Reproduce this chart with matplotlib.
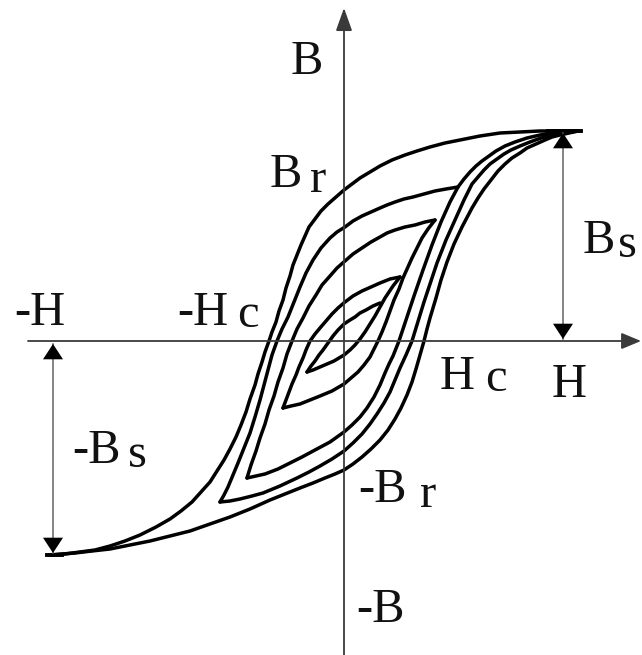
import matplotlib
matplotlib.use("Agg")
import matplotlib.pyplot as plt

# ---- data (H, B in drawing units; origin at the axes crossing) ----
outer_desc_H = [234, 216, 196, 176, 156, 136, 116, 101, 86, 73, 61, 48, 36, 26, 16, 8, 0, -8, -16, -23,
                -29, -35, -39, -43, -47, -51, -54, -58, -61, -65, -68, -72, -75, -79, -82, -86, -89,
                -94, -98, -103, -108, -114, -120, -127, -134, -143, -152, -163, -174, -188, -204,
                -219, -234, -249, -264, -279, -294]
outer_desc_B = [210, 210, 210, 209, 208, 205, 201, 198, 194, 190, 186, 181, 175, 169, 163, 157, 151, 144,
                137, 130, 122, 114, 105, 96, 86, 76, 65, 53, 41, 30, 19, 9, 0, -11, -21, -33, -44,
                -58, -71, -84, -96, -108, -119, -130, -141, -151, -161, -170, -178, -186, -194,
                -200, -205, -209, -211, -213, -214]

outer_asc_H = [-294, -282, -269, -252, -234, -214, -194, -174, -154, -134, -114, -94, -74, -59, -44, -31,
               -19, -9, 0, 9, 18, 27, 36, 44, 51, 57, 63, 68, 72, 76, 80, 83, 86, 89, 92, 97, 103, 110,
               118, 128, 134, 140, 147, 154, 161, 168, 176, 183, 192, 201, 208, 216, 225, 234]
outer_asc_B = [-214, -213, -212, -210, -208, -204, -200, -195, -190, -183, -176, -168, -159, -153, -147,
               -142, -137, -133, -129, -123, -116, -108, -99, -89, -78, -67, -54, -41, -28, -14, 0,
               12, 23, 33, 43, 61, 79, 97, 114, 133, 143, 152, 161, 170, 177, 183, 188, 193, 197,
               201, 204, 206, 208, 210]

loop2_desc_H = [114, 102, 91, 80, 69, 60, 51, 43, 36, 27, 18, 9, 1, -7, -14, -23, -31, -38, -44, -50,
                -56, -62, -67, -72, -76, -80, -84, -89, -94, -100, -106, -111, -116, -120, -124]
loop2_desc_B = [154, 152, 150, 147, 144, 142, 139, 136, 133, 129, 125, 120, 114, 109, 103, 93, 81, 68,
                54, 39, 24, 12, 0, -14, -29, -44, -59, -76, -92, -107, -122, -134, -146, -154, -161]
loop2_asc_H = [-124, -114, -104, -92, -81, -64, -47, -35, -24, -12, 0, 9, 18, 26, 33, 40, 46, 51, 56,
               62, 68, 72, 76, 80, 84, 93, 102, 111, 120, 124, 128, 134, 140, 146, 153, 160, 167, 176,
               186, 197, 208, 221, 234]
loop2_asc_B = [-161, -160, -158, -155, -152, -145, -137, -131, -125, -118, -110, -102, -93, -83, -73,
               -62, -51, -39, -27, -14, 0, 13, 26, 39, 51, 78, 101, 121, 141, 149, 157, 164, 171,
               177, 182, 187, 191, 195, 199, 203, 206, 208, 210]

loop3_desc_H = [91, 81, 71, 61, 51, 43, 36, 27, 18, 9, 1, -7, -14, -22, -28, -35, -41, -47, -52, -57,
                -61, -66, -70, -75, -79, -84, -88, -93, -97]
loop3_desc_B = [121, 119, 116, 114, 111, 108, 104, 99, 93, 87, 80, 73, 65, 56, 46, 35, 23, 12, 0, -13,
                -27, -41, -55, -69, -83, -97, -110, -124, -137]
loop3_asc_H = [-97, -88, -79, -66, -54, -42, -29, -14, 0, 8, 16, 23, 30, 36, 41, 45, 49, 55, 62, 70, 79,
               88, 97, 106, 114, 120, 126, 132, 138, 145, 152, 161, 171, 183, 196, 214, 234]
loop3_asc_B = [-137, -135, -133, -128, -122, -116, -109, -101, -91, -84, -76, -67, -56, -44, -32, -23,
               -15, 0, 21, 45, 71, 96, 119, 139, 154, 162, 169, 175, 180, 185, 190, 195, 199, 203,
               206, 209, 210]

loop4_desc_H = [56, 46, 36, 27, 18, 9, 1, -6, -12, -18, -24, -29, -34, -38, -41, -45, -48, -52, -55,
                -58, -61]
loop4_desc_B = [64, 62, 58, 54, 50, 45, 39, 33, 27, 20, 13, 7, 0, -9, -17, -26, -34, -43, -51, -59, -67]
loop4_asc_H = [-61, -53, -44, -34, -24, -12, 0, 7, 14, 20, 26, 30, 34, 38, 42, 46, 50, 55, 59, 68, 78,
               84, 91]
loop4_asc_B = [-67, -65, -63, -59, -55, -50, -43, -37, -31, -24, -16, -8, 0, 9, 19, 30, 41, 52, 63, 83,
               103, 112, 121]

loop5_desc_H = [36, 29, 22, 16, 11, 6, 0, -6, -11, -16, -21, -25, -29, -33, -37]
loop5_desc_B = [38, 35, 31, 28, 24, 21, 17, 11, 5, -2, -9, -14, -20, -25, -31]
loop5_asc_H = [-37, -31, -24, -17, -10, -5, 0, 6, 11, 16, 21, 26, 31, 36, 41, 45, 49, 56]
loop5_asc_B = [-31, -29, -26, -23, -20, -17, -14, -9, -4, 2, 9, 17, 25, 34, 43, 49, 55, 64]

Hs_pos, Bs_pos = 219, 208      # Bs arrow position / top
Hs_neg, Bs_neg = -291, -212    # -Bs arrow position / bottom

# labels: (text, H, B)
labels = [
    ("B", -53, 267),
    ("B", -74, 154), ("r", -34, 149),
    ("B", 239, 88), ("s", 274, 84),
    ("-H", -330, 16),
    ("-H", -167, 16), ("c", -107, 14),
    ("H", 96, -48), ("c", 141, -50),
    ("H", 208, -56),
    ("-B", -272, -122), ("s", -216, -126),
    ("-B", 14, -161), ("r", 76, -166),
    ("-B", 12, -281),
]

# ---- figure ----
fig = plt.figure(figsize=(6.42, 6.55), dpi=100)
ax = fig.add_axes([0, 0, 1, 1])
ax.set_xlim(-344, 298)
ax.set_ylim(-314, 341)
ax.axis("off")

axis_col = "#3a3a3a"
ax.annotate("", xy=(297, 0), xytext=(-316, 0),
            arrowprops=dict(arrowstyle="-|>,head_length=1.2,head_width=0.5", mutation_scale=10,
                            color=axis_col, lw=1.3, shrinkA=0, shrinkB=0))
ax.annotate("", xy=(0, 333), xytext=(0, -314),
            arrowprops=dict(arrowstyle="-|>,head_length=1.4,head_width=0.5", mutation_scale=10,
                            color=axis_col, lw=1.3, shrinkA=0, shrinkB=0))

curve_kw = dict(color="black", lw=2.5, solid_capstyle="round", solid_joinstyle="round")
for H, B in [(outer_desc_H, outer_desc_B), (outer_asc_H, outer_asc_B),
             (loop2_desc_H, loop2_desc_B), (loop2_asc_H, loop2_asc_B),
             (loop3_desc_H, loop3_desc_B), (loop3_asc_H, loop3_asc_B),
             (loop4_desc_H, loop4_desc_B), (loop4_asc_H, loop4_asc_B),
             (loop5_desc_H, loop5_desc_B), (loop5_asc_H, loop5_asc_B)]:
    ax.plot(H, B, **curve_kw)

# saturation flats
ax.plot([outer_desc_H[0] - 30, outer_desc_H[0] + 3], [Bs_pos + 2, Bs_pos + 2], color="black", lw=2.8)
ax.plot([outer_asc_H[0] - 3, outer_asc_H[0] + 12], [outer_asc_B[0], outer_asc_B[0]], color="black", lw=2.8)

def dbl_arrow(x, y0, y1):
    ax.plot([x, x], [y0, y1], color="#666666", lw=1.1)
    mid = (y0 + y1) / 2
    for tip in (y0, y1):
        ax.annotate("", xy=(x, tip), xytext=(x, mid),
                    arrowprops=dict(arrowstyle="-|>,head_length=1.1,head_width=0.72",
                                    mutation_scale=10, color="black", lw=0.01,
                                    shrinkA=0, shrinkB=0))

dbl_arrow(Hs_pos, 2, Bs_pos)
dbl_arrow(Hs_neg, -3, Bs_neg)

for txt, x, y in labels:
    ax.text(x, y, txt, fontsize=35, family="Liberation Serif", ha="left", va="baseline",
            color="#111111")

fig.savefig("out.png", dpi=100)
